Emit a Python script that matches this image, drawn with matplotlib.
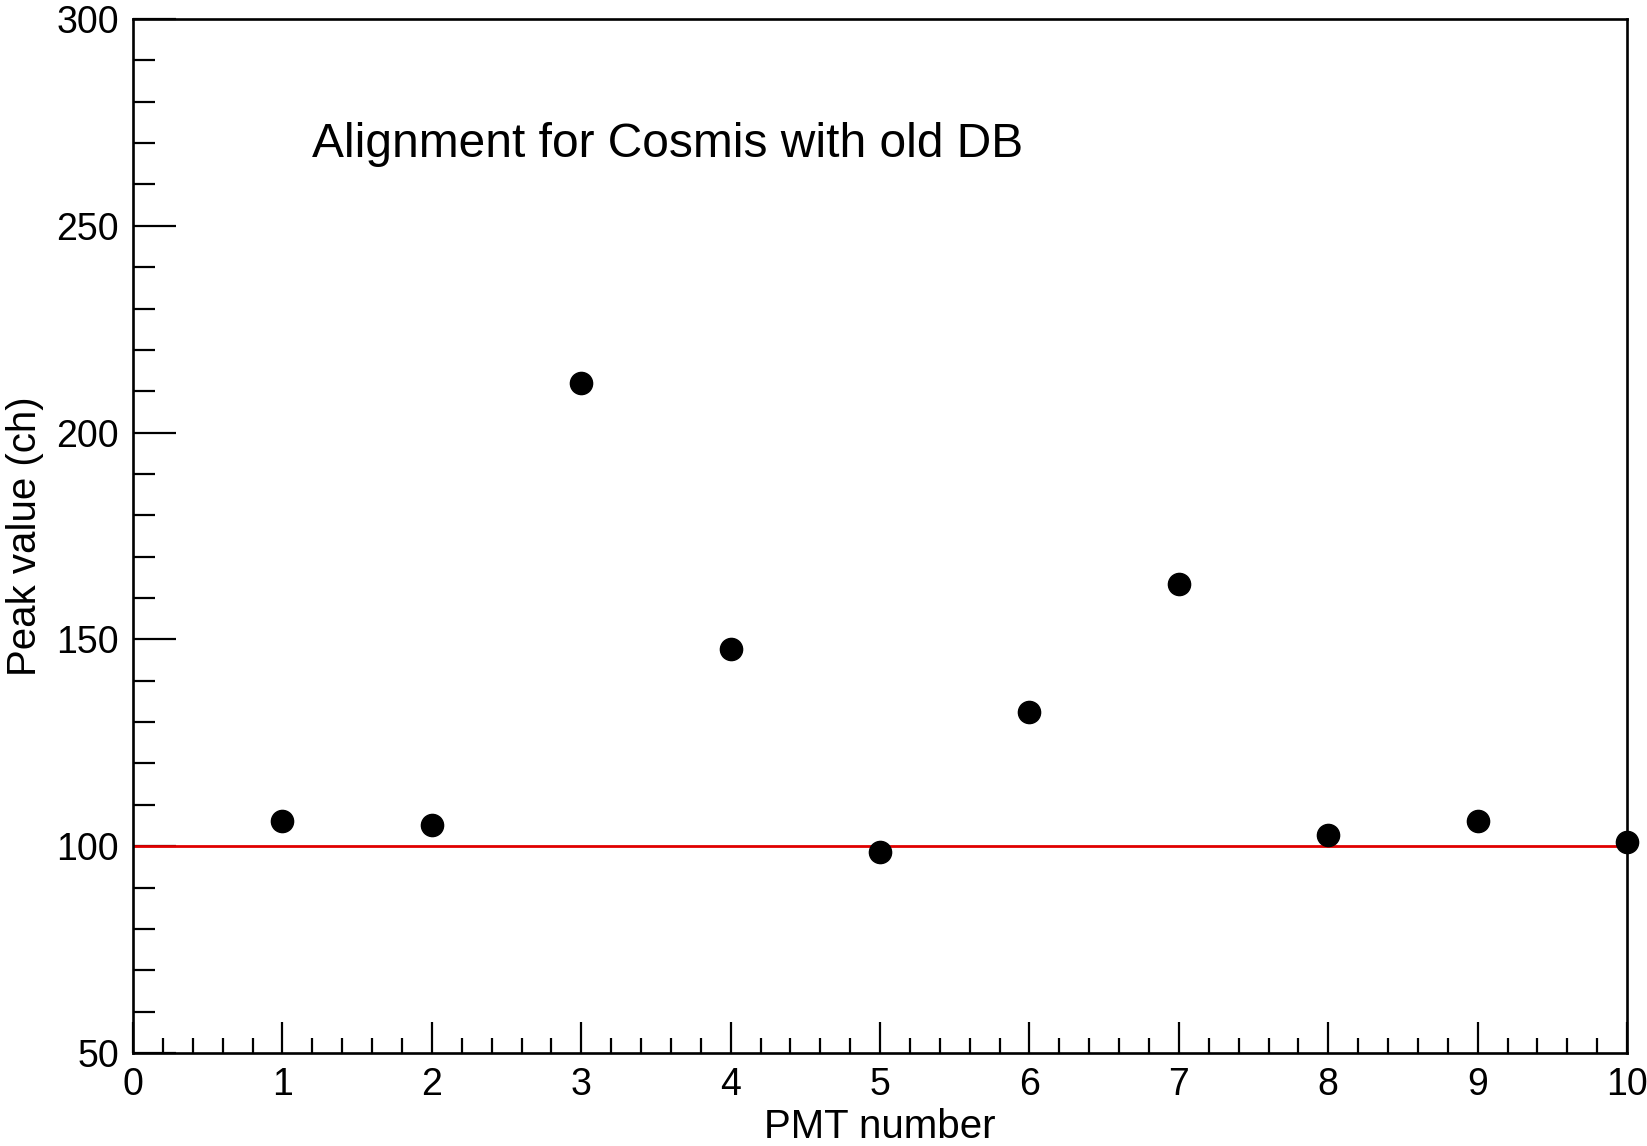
import matplotlib
matplotlib.use("Agg")
import matplotlib.pyplot as plt
from matplotlib.ticker import MultipleLocator

# PMT peak positions
pmt = [1, 2, 3, 4, 5, 6, 7, 8, 9, 10]
peak = [106.0, 105.2, 211.9, 147.7, 98.6, 132.4, 163.4, 102.7, 106.0, 101.1]
reference_level = 100

plt.rcParams['font.family'] = ['Liberation Sans', 'DejaVu Sans']

fig = plt.figure(figsize=(16.47, 11.46), dpi=100)
ax = fig.add_axes([0.0808, 0.0812, 0.9071, 0.9022])

ax.axhline(reference_level, color='#e00000', linewidth=2.0, zorder=2)
ax.plot(pmt, peak, 'o', color='black', markersize=16, linestyle='none',
        clip_on=False, zorder=3)

ax.set_xlim(0, 10)
ax.set_ylim(50, 300)
ax.xaxis.set_major_locator(MultipleLocator(1))
ax.xaxis.set_minor_locator(MultipleLocator(0.2))
ax.yaxis.set_major_locator(MultipleLocator(50))
ax.yaxis.set_minor_locator(MultipleLocator(10))

for s in ax.spines.values():
    s.set_linewidth(1.9)

ax.tick_params(axis='x', which='major', direction='in', length=22, width=1.6,
               labelsize=27, pad=10, top=False)
ax.tick_params(axis='x', which='minor', direction='in', length=11, width=1.6, top=False)
ax.tick_params(axis='y', which='major', direction='in', length=31, width=1.6,
               labelsize=27, pad=10, right=False)
ax.tick_params(axis='y', which='minor', direction='in', length=16, width=1.6, right=False)

ax.set_xlabel('PMT number', fontsize=29, labelpad=4)
ax.set_ylabel('Peak value (ch)', fontsize=29, labelpad=9)

ax.text(0.12, 0.879, 'Alignment for Cosmis with old DB', transform=ax.transAxes,
        fontsize=34.5, va='center', ha='left')

fig.savefig('out.png', dpi=100)
